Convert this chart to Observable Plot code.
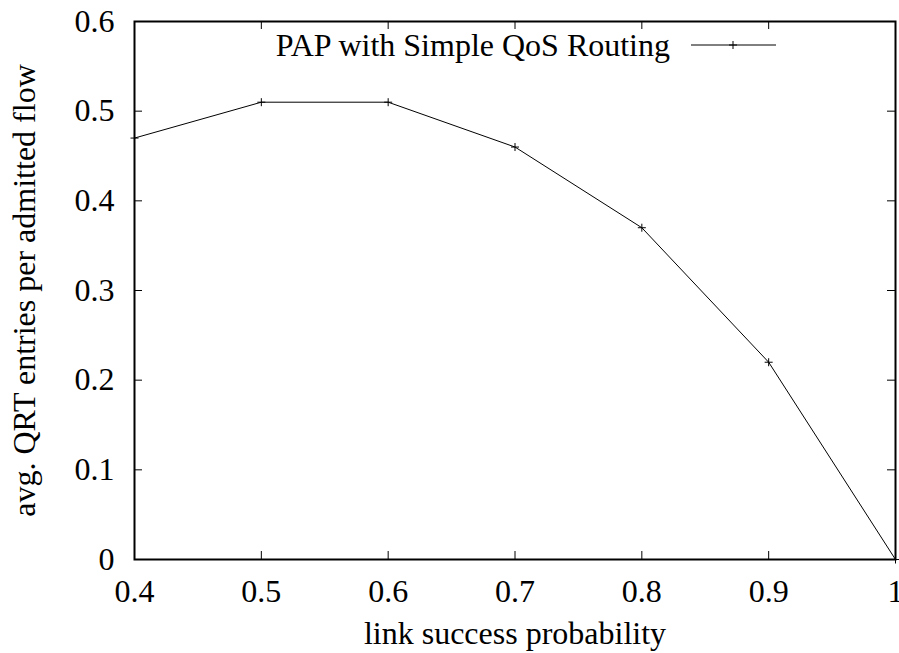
<!DOCTYPE html>
<html>
<head>
<meta charset="utf-8">
<script src="https://cdn.jsdelivr.net/npm/d3@7"></script>
<script src="https://cdn.jsdelivr.net/npm/@observablehq/plot@0.6"></script>
<style>
  html, body { margin: 0; padding: 0; background: #fff; }
  #chart { width: 899px; height: 653px; }
</style>
</head>
<body>
<div id="chart"></div>
<script>
// Data
const linkProb = [0.4, 0.5, 0.6, 0.7, 0.8, 0.9, 1.0];
const qrtEntries = [0.47, 0.51, 0.51, 0.46, 0.37, 0.22, 0.0];
const seriesName = "PAP with Simple QoS Routing";
const xTicks = [0.4, 0.5, 0.6, 0.7, 0.8, 0.9, 1.0];
const xTickLabels = ["0.4", "0.5", "0.6", "0.7", "0.8", "0.9", "1"];
const yTicks = [0, 0.1, 0.2, 0.3, 0.4, 0.5, 0.6];
const yTickLabels = ["0", "0.1", "0.2", "0.3", "0.4", "0.5", "0.6"];
const xLabel = "link success probability";
const yLabel = "avg. QRT entries per admitted flow";

const W = 899, H = 653;
const mL = 134, mR = 4, mT = 21, mB = 94;
const plotW = W - mL - mR, plotH = H - mT - mB;
const tickLen = 8;
const FONT = "'Liberation Serif', 'Times New Roman', serif";
const FS = 32;

const data = linkProb.map((x, i) => ({x, y: qrtEntries[i]}));

const plusSymbol = {
  draw(ctx, size) {
    const r = Math.sqrt(size / Math.PI);
    ctx.moveTo(-r, 0); ctx.lineTo(r, 0);
    ctx.moveTo(0, -r); ctx.lineTo(0, r);
  }
};

const chart = Plot.plot({
  width: W, height: H,
  marginLeft: mL, marginRight: mR, marginTop: mT, marginBottom: mB,
  style: {fontFamily: FONT, fontSize: FS + "px", background: "#fff", color: "#000", overflow: "visible"},
  x: {domain: [0.4, 1.0]},
  y: {domain: [0, 0.6]},
  marks: [
    // inward tick marks on all four sides
    Plot.tickX(xTicks, {x: d => d, insetTop: plotH - tickLen, stroke: "#000", strokeWidth: 1}),
    Plot.tickX(xTicks, {x: d => d, insetBottom: plotH - tickLen, stroke: "#000", strokeWidth: 1}),
    Plot.tickY(yTicks, {y: d => d, insetRight: plotW - tickLen, stroke: "#000", strokeWidth: 1}),
    Plot.tickY(yTicks, {y: d => d, insetLeft: plotW - tickLen, stroke: "#000", strokeWidth: 1}),
    Plot.axisX(xTicks, {
      anchor: "bottom", tickSize: 0, tickPadding: 20,
      tickFormat: (d) => xTickLabels[xTicks.indexOf(d)],
      fontSize: FS, fontFamily: FONT, fill: "#000",
      label: xLabel, labelAnchor: "center", labelOffset: 84, labelArrow: "none"
    }),
    Plot.axisY(yTicks, {
      anchor: "left", tickSize: 0, tickPadding: 20,
      tickFormat: (d) => yTickLabels[yTicks.indexOf(d)],
      fontSize: FS, fontFamily: FONT, fill: "#000",
      label: yLabel, labelAnchor: "center", labelOffset: 122, labelArrow: "none"
    }),
    Plot.line(data, {x: "x", y: "y", stroke: "#000", strokeWidth: 1}),
    Plot.dot(data, {x: "x", y: "y", symbol: plusSymbol, r: 4, stroke: "#000", strokeWidth: 1, fill: "none"}),
    Plot.frame({stroke: "#000", strokeWidth: 2})
  ]
});

document.getElementById("chart").appendChild(chart);

// Legend (gnuplot-style key, top right inside the plot)
const svg = d3.select(chart);
const key = svg.append("g").attr("class", "key");
key.append("text")
  .attr("x", 670).attr("y", 56)
  .attr("text-anchor", "end")
  .attr("font-family", FONT).attr("font-size", FS).attr("fill", "#000")
  .text(seriesName);
key.append("line").attr("x1", 691).attr("x2", 776).attr("y1", 45).attr("y2", 45)
  .attr("stroke", "#000").attr("stroke-width", 1);
key.append("path").attr("d", "M729,45H737M733,41V49")
  .attr("stroke", "#000").attr("stroke-width", 1).attr("fill", "none");
</script>
</body>
</html>
